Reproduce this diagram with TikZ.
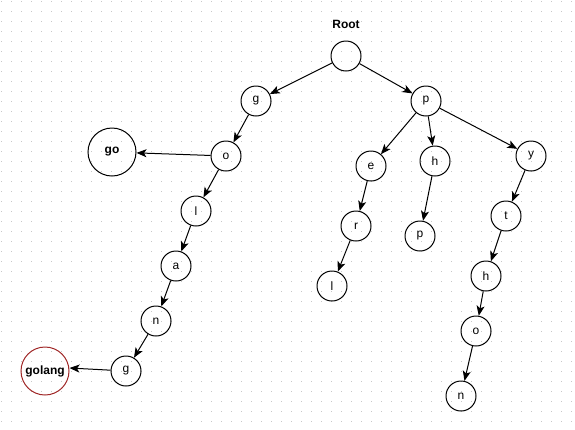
\documentclass[tikz,border=0pt]{standalone}
\usepackage{fontspec}
\setmainfont{Liberation Sans}
\usetikzlibrary{arrows.meta}
\begin{document}
\begin{tikzpicture}[x=1pt,y=-1pt,
  trienode/.style={circle,draw=black,line width=1pt,minimum size=30pt,inner sep=0pt,font=\fontsize{12}{14}\selectfont},
  wordnode/.style={circle,draw=black,line width=1pt,minimum size=48pt,inner sep=0pt,font=\fontsize{12}{14}\selectfont\bfseries},
  edge/.style={draw=black,line width=1pt,-{Stealth[length=10pt,width=8pt,inset=2.5pt]}},
  griddot/.style={fill=black!22}]
\useasboundingbox (0,0) rectangle (575,429);
\foreach \i in {0,...,57}{\foreach \j in {0,...,42}{\fill[griddot] (\i*10+0.5,\j*10+0.5) rectangle ++(1,1);}}
\node[font=\fontsize{12}{14}\selectfont\bfseries] (rootlabel) at (346,24) {Root};
\node[trienode] (root) at (346,56) {};
\node[trienode] (g) at (256,101) {g};
\node[trienode] (p) at (426,101) {p};
\node[trienode] (o) at (226,156) {o};
\node[wordnode] (go) at (112,152) {go};
\node[trienode] (l) at (196,211) {l};
\node[trienode] (a) at (176,266) {a};
\node[trienode] (n) at (156,321) {n};
\node[trienode] (g2) at (126,371) {g};
\node[wordnode,draw={rgb,255:red,160;green,40;blue,40}] (golang) at (45,371) {golang};
\node[trienode] (e) at (371,166) {e};
\node[trienode] (h) at (435,161) {h};
\node[trienode] (y) at (531,156) {y};
\node[trienode] (r) at (356,226) {r};
\node[trienode] (p2) at (420,236) {p};
\node[trienode] (l2) at (332,286) {l};
\node[trienode] (t) at (506,216) {t};
\node[trienode] (h2) at (486,276) {h};
\node[trienode] (o2) at (476,331) {o};
\node[trienode] (n2) at (461,396) {n};
\draw[edge] (root) -- (g);
\draw[edge] (root) -- (p);
\draw[edge] (g) -- (o);
\draw[edge] (o) -- (go);
\draw[edge] (o) -- (l);
\draw[edge] (l) -- (a);
\draw[edge] (a) -- (n);
\draw[edge] (n) -- (g2);
\draw[edge] (g2) -- ([yshift=3pt]golang.east);
\draw[edge] (p) -- (e);
\draw[edge] (p) -- (h);
\draw[edge] (p) -- (y);
\draw[edge] (e) -- (r);
\draw[edge] (r) -- (l2);
\draw[edge] (h) -- (p2);
\draw[edge] (y) -- (t);
\draw[edge] (t) -- (h2);
\draw[edge] (h2) -- (o2);
\draw[edge] (o2) -- (n2);
\end{tikzpicture}
\end{document}
